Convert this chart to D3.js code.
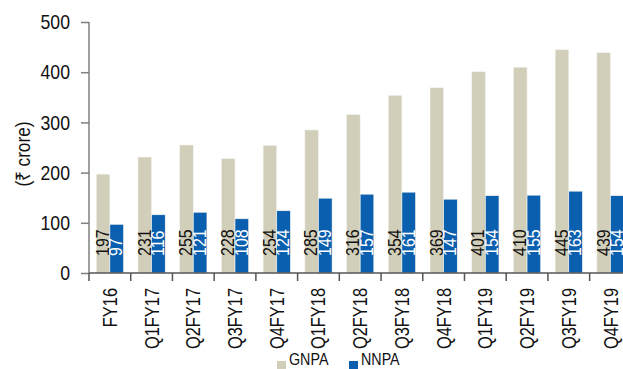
<!DOCTYPE html>
<html>
<head>
<meta charset="utf-8">
<script src="https://cdn.jsdelivr.net/npm/d3@7"></script>
<style>
  body { margin: 0; background: #fff; }
  svg { display: block; overflow: hidden; }
  text { font-family: 'Liberation Sans', Arial, sans-serif; }
</style>
</head>
<body>
<div id="chart"></div>
<script>
const quarters = ['FY16', 'Q1FY17', 'Q2FY17', 'Q3FY17', 'Q4FY17', 'Q1FY18', 'Q2FY18',
  'Q3FY18', 'Q4FY18', 'Q1FY19', 'Q2FY19', 'Q3FY19', 'Q4FY19']
const gnpa = [197, 231, 255, 228, 254, 285, 316, 354, 369, 401, 410, 445, 439]
const nnpa = [97, 116, 121, 108, 124, 149, 157, 161, 147, 154, 155, 163, 154]
const seriesNames = ['GNPA', 'NNPA']
const yTicks = [0, 100, 200, 300, 400, 500]

const colors = { GNPA: '#d1ceba', NNPA: '#0b5faf' }

const width = 623
const height = 369
const left = 89
const step = 41.72

// no narrow font installed, so squeeze the regular one
function condense(sel, k) {
  sel.each(function() {
    const len = this.getComputedTextLength()
    d3.select(this)
      .attr('textLength', len * k)
      .attr('lengthAdjust', 'spacingAndGlyphs')
  })
}

const svg = d3
  .select('#chart')
  .append('svg')
  .attr('width', width)
  .attr('height', height)

const xScale = d3
  .scaleBand()
  .domain(quarters)
  .range([left, left + step * quarters.length])
  .padding(0)

const xInner = d3
  .scaleBand()
  .domain(seriesNames)
  .range([0, xScale.bandwidth()])
  .paddingInner(0)
  .paddingOuter(0.53)

const yScale = d3.scaleLinear().domain([0, 500]).range([273, 22])

const datapoints = quarters.map((q, i) => ({ quarter: q, GNPA: gnpa[i], NNPA: nnpa[i] }))

const groups = svg
  .selectAll('.group')
  .data(datapoints)
  .enter()
  .append('g')
  .attr('class', 'group')
  .attr('transform', d => 'translate(' + xScale(d.quarter) + ',0)')

groups
  .selectAll('rect')
  .data(d => seriesNames.map(s => ({ key: s, value: d[s] })))
  .enter()
  .append('rect')
  .attr('x', d => xInner(d.key))
  .attr('width', xInner.bandwidth())
  .attr('y', d => yScale(d.value))
  .attr('height', d => yScale(0) - yScale(d.value))
  .attr('fill', d => colors[d.key])
  .attr('stroke', '#f4f4f0')
  .attr('stroke-width', 0.6)

// value labels, rotated, sitting near the bar base
groups
  .selectAll('.label')
  .data(d => seriesNames.map(s => ({ key: s, value: d[s] })))
  .enter()
  .append('text')
  .attr('class', 'label')
  .attr('transform', d => {
    const x = xInner(d.key) + xInner.bandwidth() - 1
    return 'translate(' + x + ',' + (yScale(0) - 17) + ') rotate(-90)'
  })
  .text(d => d.value)
  .style('font-size', '19px')
  .attr('fill', d => (d.key === 'GNPA' ? '#111' : '#fff'))
  .call(condense, 0.84)

// y axis
const yAxis = d3.axisLeft(yScale).tickValues(yTicks).tickSize(8).tickPadding(11)
svg
  .append('g')
  .attr('class', 'axis y-axis')
  .attr('transform', 'translate(' + left + ',0)')
  .call(yAxis)
svg.selectAll('.y-axis path').attr('stroke', '#7f7f7f').attr('stroke-width', 1.5)
  .attr('d', 'M0,' + yScale(500) + 'V' + yScale(0))
svg.selectAll('.y-axis line').attr('stroke', '#7f7f7f').attr('stroke-width', 1.5)
svg.selectAll('.y-axis text')
  .style('font-size', '21px')
  .style('font-family', "'Liberation Sans', sans-serif")
  .attr('fill', '#111')
  .call(condense, 0.84)

// x axis with ticks at band boundaries
const xAxis = d3.axisBottom(xScale).tickSize(0).tickPadding(0)
const xg = svg
  .append('g')
  .attr('class', 'axis x-axis')
  .attr('transform', 'translate(0,' + yScale(0) + ')')
  .call(xAxis)
xg.select('path').attr('stroke', '#555').attr('stroke-width', 1.5)
  .attr('d', 'M' + left + ',0H' + width)
xg.selectAll('.tick text')
  .attr('x', -15)
  .attr('y', 0)
  .attr('dy', '0.36em')
  .attr('transform', 'rotate(-90)')
  .attr('text-anchor', 'end')
  .style('font-size', '19.5px')
  .style('font-family', "'Liberation Sans', sans-serif")
  .attr('fill', '#111')
  .call(condense, 0.84)

xg.selectAll('.sep')
  .data(quarters)
  .enter()
  .append('line')
  .attr('class', 'sep')
  .attr('x1', d => xScale(d))
  .attr('x2', d => xScale(d))
  .attr('y1', 0)
  .attr('y2', 8)
  .attr('stroke', '#555')
  .attr('stroke-width', 1.5)

// y axis title
svg
  .append('text')
  .attr('transform', 'translate(30,154) rotate(-90)')
  .attr('text-anchor', 'middle')
  .text('(₹ crore)')
  .style('font-size', '20px')
  .attr('fill', '#111')
  .call(condense, 0.86)

// legend
const legend = svg
  .selectAll('.legend')
  .data(seriesNames)
  .enter()
  .append('g')
  .attr('class', 'legend')
  .attr('transform', (d, i) => 'translate(' + (277 + i * 72) + ',0)')

legend
  .append('rect')
  .attr('x', 0)
  .attr('y', 361)
  .attr('width', 9)
  .attr('height', 9)
  .attr('fill', d => colors[d])

legend
  .append('text')
  .attr('x', 12)
  .attr('y', 365)
  .text(d => d)
  .style('font-size', '17px')
  .attr('fill', '#111')
  .call(condense, 0.84)
</script>
</body>
</html>
